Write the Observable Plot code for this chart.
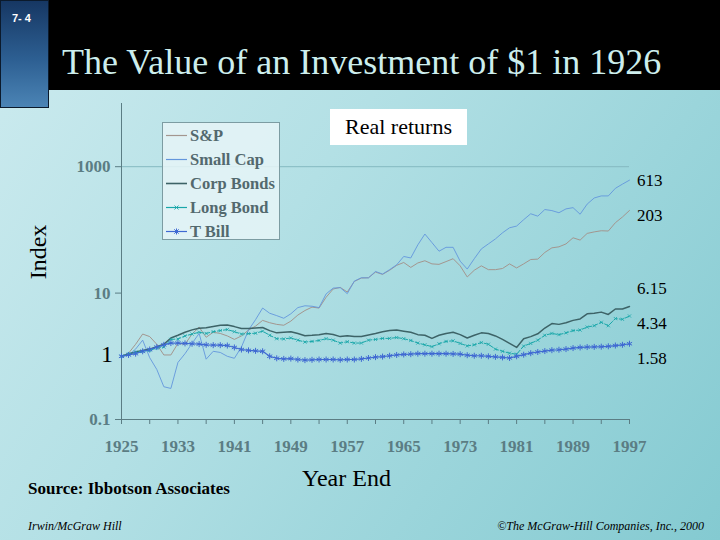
<!DOCTYPE html>
<html>
<head>
<meta charset="utf-8">
<script src="https://cdn.jsdelivr.net/npm/d3@7"></script>
<script src="https://cdn.jsdelivr.net/npm/@observablehq/plot@0.6"></script>
</head>
<body style="margin:0;padding:0">
<div id="slide" style="position:relative;width:720px;height:540px;overflow:hidden;font-family:'Liberation Serif';background:linear-gradient(125deg,#cdebef 0%,#b3e0e5 40%,#9bd5db 70%,#84cad1 100%)"></div>
<script>
// ---- data ----
const years = [1925,1926,1927,1928,1929,1930,1931,1932,1933,1934,1935,1936,1937,1938,1939,1940,1941,1942,1943,1944,
  1945,1946,1947,1948,1949,1950,1951,1952,1953,1954,1955,1956,1957,1958,1959,1960,1961,1962,1963,1964,
  1965,1966,1967,1968,1969,1970,1971,1972,1973,1974,1975,1976,1977,1978,1979,1980,1981,1982,1983,1984,
  1985,1986,1987,1988,1989,1990,1991,1992,1993,1994,1995,1996,1997];

const sp = [1.00,1.12,1.55,2.25,2.05,1.55,1.05,1.05,1.60,1.55,2.25,2.90,2.00,2.40,2.30,2.10,1.85,2.10,2.60,3.00,
  3.70,3.40,3.20,3.10,3.60,4.50,5.30,6.00,5.80,8.60,11.6,12.3,10.4,15.3,17.3,17.5,21.5,19.8,23.0,27.5,
  30.5,25.5,30.0,32.5,29.0,28.5,31.5,35.0,27.0,18.0,23.0,27.0,23.5,23.5,24.5,29.0,25.0,29.0,34.0,34.5,
  44.0,52.0,54.0,60.0,75.0,69.0,88.0,93.0,97.0,96.0,130,160,203];

const smallCap = [1.00,1.05,1.30,1.80,0.95,0.62,0.33,0.31,0.80,1.10,1.60,2.30,0.90,1.20,1.15,1.00,0.93,1.40,2.60,3.80,
  5.80,4.80,4.40,4.00,4.70,5.90,6.30,6.20,5.90,9.70,12.0,12.2,9.8,15.5,17.5,17.4,22.0,20.0,23.5,28.0,
  38.0,36.0,58.0,86.0,63.0,46.0,53.0,53.0,32.0,24.0,35.0,50.0,60.0,72.0,90.0,108,115,145,180,165,
  210,202,187,215,225,177,256,320,345,345,455,530,613];

const corpBonds = [1.00,1.09,1.17,1.24,1.30,1.42,1.55,1.95,2.15,2.40,2.62,2.78,2.82,2.95,3.10,3.12,2.95,2.75,2.75,2.80,
  2.85,2.55,2.35,2.40,2.45,2.30,2.12,2.15,2.20,2.30,2.22,2.05,2.12,2.05,2.05,2.18,2.30,2.45,2.55,2.60,
  2.50,2.40,2.20,2.15,1.92,2.15,2.30,2.40,2.20,1.95,2.15,2.35,2.30,2.10,1.85,1.60,1.38,1.90,2.05,2.27,
  2.80,3.30,3.20,3.40,3.70,3.90,4.70,4.80,5.00,4.60,5.60,5.60,6.15];

const longBond = [1.00,1.09,1.17,1.20,1.24,1.35,1.40,1.85,1.88,2.10,2.25,2.40,2.30,2.45,2.55,2.65,2.45,2.25,2.28,2.32,
  2.50,2.15,1.90,1.88,1.95,1.80,1.68,1.72,1.78,1.90,1.80,1.62,1.70,1.62,1.62,1.80,1.85,1.92,1.92,1.98,
  1.90,1.78,1.62,1.52,1.42,1.58,1.72,1.76,1.60,1.46,1.52,1.65,1.55,1.30,1.20,1.12,1.08,1.45,1.60,1.80,
  2.15,2.30,2.20,2.35,2.55,2.60,2.90,3.05,3.45,3.05,3.95,3.85,4.34];

const tBill = [1.00,1.05,1.10,1.20,1.28,1.40,1.52,1.62,1.62,1.60,1.58,1.56,1.52,1.50,1.50,1.48,1.38,1.28,1.24,1.22,
  1.20,1.00,0.93,0.91,0.92,0.89,0.87,0.88,0.89,0.89,0.89,0.88,0.89,0.89,0.91,0.94,0.97,0.99,1.02,1.05,
  1.07,1.08,1.10,1.10,1.10,1.10,1.10,1.09,1.08,1.04,1.02,1.02,1.00,0.98,0.96,0.94,1.00,1.06,1.12,1.17,
  1.21,1.25,1.27,1.30,1.35,1.38,1.40,1.41,1.42,1.44,1.48,1.52,1.58];

const seriesNames = ["S&P", "Small Cap", "Corp Bonds", "Long Bond", "T Bill"];
const seriesColors = ["#a3968f", "#6396dc", "#3d6367", "#19a7a9", "#3f69d2"];
const endLabels = ["613", "203", "6.15", "4.34", "1.58"];
const yTicks = [0.1, 10, 1000];
const xTicks = [1925,1929,1933,1937,1941,1945,1949,1953,1957,1961,1965,1969,1973,1977,1981,1985,1989,1993,1997];
const xLabelYears = [1925,1933,1941,1949,1957,1965,1973,1981,1989,1997];

const SERIF = "Liberation Serif";

// ---- build table ----
const seriesValues = [sp, smallCap, corpBonds, longBond, tBill];
const rows = [];
seriesNames.forEach((name, i) => {
  years.forEach((yr, j) => rows.push({series: name, year: yr, value: seriesValues[i][j]}));
});
const bySeries = name => rows.filter(d => d.series === name);

const styleOf = {
  "S&P": {strokeWidth: 1},
  "Small Cap": {strokeWidth: 0.9},
  "Corp Bonds": {strokeWidth: 1.5},
  "Long Bond": {strokeWidth: 1, strokeDasharray: "4,2"},
  "T Bill": {strokeWidth: 1.2}
};

const slide = document.getElementById("slide");
function box(css, html, parent) {
  const d = document.createElement("div");
  d.style.position = "absolute";
  d.style.whiteSpace = "nowrap";
  for (const k in css) d.style[k] = css[k];
  d.style.setProperty("font-family", css.fontFamily || "'Liberation Serif'", "important");
  if (html) d.innerHTML = html;
  (parent || slide).appendChild(d);
  return d;
}

box({left: "0px", top: "0px", width: "720px", height: "90px", background: "#000"});
box({left: "0px", top: "0px", width: "47px", height: "106px",
  background: "linear-gradient(180deg,#163763 0%,#2d5f92 55%,#4b84b5 100%)", border: "1px solid #0b1a2c"});
box({left: "12px", top: "12px", color: "#fff", fontWeight: "bold", fontSize: "11px", fontFamily: "'Liberation Sans'"}, "7- 4");
box({left: "62px", top: "41px", color: "#cdeeed", fontSize: "36px"}, "The Value of an Investment of $1 in 1926");

const axisColor = "#5b7d84";
const marks = [
  Plot.ruleY([1000], {stroke: "#84b9c0", strokeWidth: 1}),
  Plot.ruleX([1925], {stroke: axisColor, strokeWidth: 1}),
  Plot.ruleY([0.1], {stroke: axisColor, strokeWidth: 1}),
  Plot.axisY({ticks: yTicks, tickFormat: d => d === 0.1 ? "0.1" : String(d), tickSize: 6, tickPadding: 5,
    color: axisColor, fontWeight: "bold", fontSize: 17, fontFamily: SERIF, label: null}),
  Plot.axisX({ticks: xTicks, tickFormat: d => xLabelYears.includes(d) ? String(d) : "", tickSize: 5,
    tickPadding: 15, color: axisColor, fontWeight: "bold", fontSize: 17, fontFamily: SERIF, label: null})
];
seriesNames.forEach((name, i) => {
  marks.push(Plot.line(bySeries(name), {x: "year", y: "value", stroke: seriesColors[i], ...styleOf[name]}));
});
marks.push(Plot.dot(bySeries("Long Bond"), {x: "year", y: "value", symbol: "times", r: 1.6, stroke: seriesColors[3], strokeWidth: 0.8}));
marks.push(Plot.dot(bySeries("T Bill"), {x: "year", y: "value", symbol: "asterisk", r: 2.8, stroke: seriesColors[4], strokeWidth: 1}));

const chart = Plot.plot({
  width: 720, height: 540,
  marginTop: 103, marginBottom: 121, marginLeft: 121, marginRight: 91,
  x: {domain: [1925, 1997]},
  y: {type: "log", domain: [0.1, 10000]},
  style: {background: "transparent", fontFamily: SERIF, overflow: "visible"},
  marks
});
const holder = box({left: "0px", top: "0px"});
holder.appendChild(chart);
chart.querySelectorAll("text").forEach(t => t.style.setProperty("font-family", "'Liberation Serif'", "important"));

box({left: "330px", top: "109px", width: "137px", height: "36px", background: "#fff", fontSize: "22px",
  lineHeight: "36px", textAlign: "center", color: "#000"}, "Real returns");

// legend
const legend = box({left: "162px", top: "122px", width: "116px", height: "116px",
  background: "rgba(230,244,247,0.85)", border: "1px solid #7c9ca2"});
seriesNames.forEach((name, i) => {
  const c = seriesColors[i];
  let sym = "";
  if (name === "Long Bond") sym = `<path d="M8.5,3.5 L12.5,7.5 M12.5,3.5 L8.5,7.5" stroke="${c}" stroke-width="0.9"/>`;
  if (name === "T Bill") sym = `<path d="M10.5,2.5 V8.5 M7.5,5.5 H13.5 M8.3,3.3 L12.7,7.7 M12.7,3.3 L8.3,7.7" stroke="${c}" stroke-width="1"/>`;
  box({left: "3px", top: (2.5 + i * 24) + "px", height: "20px", display: "flex", alignItems: "center",
    fontWeight: "bold", fontSize: "16.5px", color: "#53696e"},
    `<svg width="21" height="11" style="margin-right:3px"><line x1="0" y1="5.5" x2="21" y2="5.5" stroke="${c}" stroke-width="${name === "Corp Bonds" ? 1.6 : 1.2}"/>${sym}</svg>${name}`,
    legend);
});

// end labels
const endTops = [171, 206, 279, 314, 349];
endLabels.forEach((t, i) => box({left: "637px", top: endTops[i] + "px", fontSize: "17px", color: "#000"}, t));

box({left: "101px", top: "341px", fontSize: "24px", color: "#000"}, "1");
box({left: "38px", top: "252px", fontSize: "24px", color: "#000", transform: "translate(-50%,-50%) rotate(-90deg)"}, "Index");
box({left: "302px", top: "465px", fontSize: "24px", color: "#000"}, "Year End");
box({left: "28px", top: "479px", fontWeight: "bold", fontSize: "17px", color: "#000"}, "Source: Ibbotson Associates");
box({left: "28px", top: "519px", fontStyle: "italic", fontSize: "12px", color: "#000"}, "Irwin/McGraw Hill");
box({right: "16px", top: "519px", fontStyle: "italic", fontSize: "12px", color: "#000"}, "©The McGraw-Hill Companies, Inc., 2000");
</script>
</body>
</html>
